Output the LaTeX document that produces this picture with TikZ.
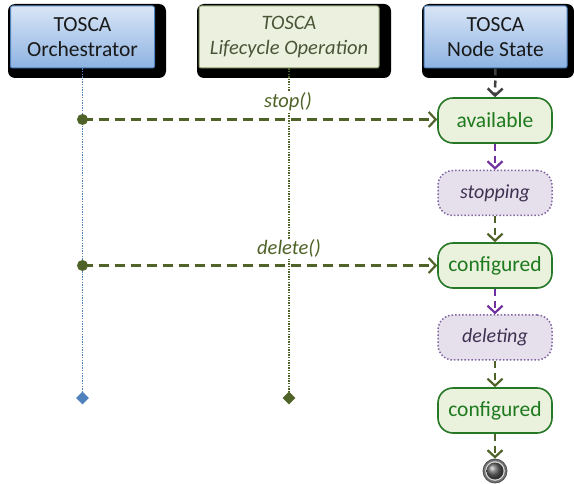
\documentclass[tikz,border=0pt]{standalone}
\usepackage{fontspec}
\setmainfont{Carlito}
\usetikzlibrary{arrows.meta,shapes.geometric,calc}
\definecolor{olivec}{HTML}{4F6228}
\definecolor{hdrblueborder}{HTML}{4F81BD}
\definecolor{hdrbluetop}{HTML}{D9E5F6}
\definecolor{hdrbluebot}{HTML}{8DB3E2}
\definecolor{lifefill}{HTML}{EBF1DE}
\definecolor{lifeborder}{HTML}{8A9A6A}
\definecolor{lifetext}{HTML}{4A5538}
\definecolor{stgreenfill}{HTML}{EAF1DD}
\definecolor{stgreenborder}{HTML}{267826}
\definecolor{stgreentext}{HTML}{1E7A1E}
\definecolor{stpurplefill}{HTML}{E5E0EC}
\definecolor{stpurpleborder}{HTML}{8064A2}
\definecolor{stpurpletext}{HTML}{3F3151}
\definecolor{purplearrow}{HTML}{7030A0}
\definecolor{darkarrow}{HTML}{404040}
\tikzset{
  hdrbase/.style={rectangle, rounded corners=2pt, minimum height=62pt, align=center,
    font=\fontsize{21.5}{24.5}\selectfont, inner sep=0pt},
  hdrblue/.style={hdrbase, draw=hdrblueborder, line width=1pt, top color=hdrbluetop,
    bottom color=hdrbluebot, text=black!90},
  hdrgreen/.style={hdrbase, draw=lifeborder, line width=1pt, fill=lifefill, text=lifetext,
    font=\fontsize{20.5}{24.5}\selectfont\itshape},
  hdrshadow/.style={fill=black, rounded corners=7pt},
  stgreen/.style={rectangle, rounded corners=15pt, minimum width=114pt, minimum height=45pt,
    draw=stgreenborder, line width=1.6pt, fill=stgreenfill, text=stgreentext,
    font=\fontsize{21.5}{24}\selectfont, inner sep=0pt},
  stpurple/.style={rectangle, rounded corners=15pt, minimum width=114pt, minimum height=45pt,
    draw=stpurpleborder, line width=1.5pt, dotted, fill=stpurplefill, text=stpurpletext,
    font=\fontsize{20}{24}\selectfont\itshape, inner sep=0pt},
  chev/.style={-{Straight Barb[length=7pt,width=15pt,line width=2.2pt]}},
  trans/.style={chev, line width=2pt, dash pattern=on 7pt off 5pt},
  transolive/.style={trans, draw=olivec},
  transpurple/.style={trans, draw=purplearrow},
  msg/.style={chev, draw=olivec, line width=2.5pt, dash pattern=on 10pt off 6pt},
  msglabel/.style={text=olivec, font=\fontsize{20.5}{22}\selectfont\itshape, inner sep=1pt, fill=white},
  dotnode/.style={circle, fill=olivec, minimum size=11pt, inner sep=0pt},
  lifeblue/.style={draw=hdrblueborder, line width=1.6pt, dash pattern=on 1.3pt off 1.3pt},
  lifeolive/.style={draw=olivec, line width=1.6pt, dash pattern=on 1.3pt off 1.3pt},
  endblue/.style={diamond, fill=hdrblueborder, minimum size=13pt, inner sep=0pt},
  endolive/.style={diamond, fill=olivec, minimum size=13pt, inner sep=0pt},
}
\begin{document}
\begin{tikzpicture}[x=1pt,y=-1pt]
\useasboundingbox (0,0) rectangle (574,484);

% header shadows
\fill[hdrshadow] (8,4) rectangle (166,78);
\fill[hdrshadow] (197,4) rectangle (391,78);
\fill[hdrshadow] (422,4) rectangle (574,78);

% headers
\node[hdrblue, minimum width=144pt] (orch) at (82.5,37) {TOSCA\\Orchestrator};
\node[hdrgreen, minimum width=180pt] (life) at (289,37) {TOSCA\\Lifecycle Operation};
\node[hdrblue, minimum width=143pt] (nstate) at (495.5,37) {TOSCA\\Node State};

% lifeline ends
\node[endblue] (oend) at (82.5,398) {};
\node[endolive] (lend) at (289,398) {};

% lifelines
\draw[lifeblue] (orch.south) -- (oend.north);
\draw[lifeolive] (life.south) -- (lend.north);

% states
\node[stgreen] (avail) at (495,120.5) {available};
\node[stpurple] (stopping) at (495,193) {stopping};
\node[stgreen] (conf1) at (495,265.5) {configured};
\node[stpurple] (deleting) at (495,337.5) {deleting};
\node[stgreen] (conf2) at (495,410.5) {configured};

% final state
\node[circle, fill=black!55, draw=black!70, line width=0.8pt, minimum size=24pt, inner sep=0pt] (fin) at (495,471) {};
\fill[white!85!black] (fin.center) circle (9.8pt);
\shade[ball color=black!60] (fin.center) circle (8.5pt);

% transitions
\draw[darkarrow, line width=2.5pt, dash pattern=on 7pt off 5pt,
  -{Straight Barb[length=7pt,width=15pt,line width=2.5pt]}] (nstate.south) -- (avail.north);
\draw[transpurple] (avail.south) -- (stopping.north);
\draw[transolive] (stopping.south) -- (conf1.north);
\draw[transpurple] (conf1.south) -- (deleting.north);
\draw[transolive] (deleting.south) -- (conf2.north);
\draw[transolive, line width=2.5pt] (conf2.south) -- (fin.north);

% messages
\node[dotnode] (m1) at (82.5,119.5) {};
\node[dotnode] (m2) at (82.5,265.5) {};
\draw[msg] (m1.center) -- (m1 -| avail.west);
\draw[msg] (m2.center) -- (m2 -| conf1.west);
\node[msglabel, anchor=base] (l1) at (288,108) {stop()};
\node[msglabel, anchor=base] (l2) at (289,255) {delete()};
\end{tikzpicture}
\end{document}
